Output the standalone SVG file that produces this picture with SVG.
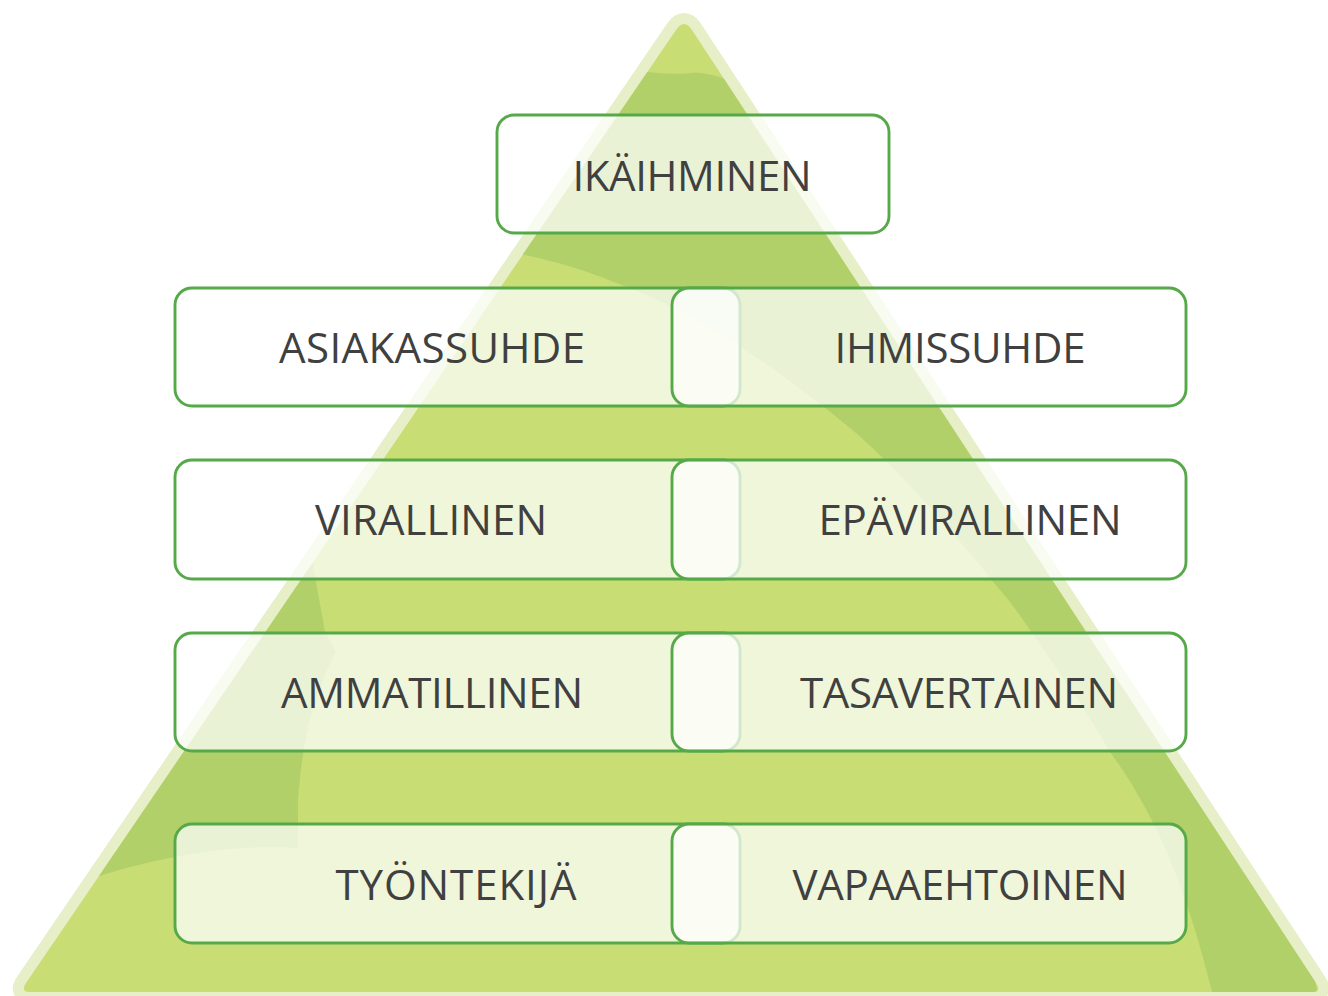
<svg xmlns="http://www.w3.org/2000/svg" width="1328" height="996" viewBox="0 0 1328 996">
  <style>
    .box { fill: #ffffff; fill-opacity: 0.73; stroke: #56a948; stroke-width: 2.9; }
    .lbl { font-family: "Open Sans", "Liberation Sans", sans-serif; font-size: 42px; fill: #404040; text-anchor: middle; }
    .dark { fill: #b1d06a; }
  </style>
  <defs>
    <clipPath id="tri">
      <path d="M676,30 Q684,18 692,30 L1316,983 Q1322,992 1312,992 L30,992 Q20,992 26,983 Z"/>
    </clipPath>
  </defs>
  <rect width="1328" height="996" fill="#ffffff"/>
  <g id="pyramid">
    <path d="M676,30 Q684,18 692,30 L1316,983 Q1322,992 1312,992 L30,992 Q20,992 26,983 Z" fill="#e6efc8" stroke="#e6efc8" stroke-width="22" stroke-linejoin="round"/>
    <path d="M676,30 Q684,18 692,30 L1316,983 Q1322,992 1312,992 L30,992 Q20,992 26,983 Z" fill="#c8dd74"/>
    <g clip-path="url(#tri)">
      <path class="dark" d="M600,68 C640,70 670,76 690,73 C705,71 725,78 760,92 L1340,900 L1340,940 L1305,952 C1312,965 1316,980 1318,1000 L1214,1000 C1190,900 1160,820 1110,752 C1080,700 1050,660 1030,630 C1015,608 1005,595 1000,590 C960,540 900,470 850,428 C780,370 700,315 627,287 C590,272 555,260 500,250 Z"/>
      <path class="dark" d="M300,545 L312,560 L325,632 L336,652 C315,690 302,740 298,800 L298,848 C250,845 180,850 93,878 L0,900 L0,545 Z"/>
    </g>
  </g>
  <g id="node-top">
    <rect class="box" x="497" y="115" width="392" height="118" rx="17"/>
    <text class="lbl" x="692" y="191" textLength="239">IKÄIHMINEN</text>
  </g>
  <g id="node-asiakassuhde">
    <rect class="box" x="175" y="288" width="565" height="118" rx="17"/>
    <text class="lbl" x="432" y="363" textLength="306">ASIAKASSUHDE</text>
  </g>
  <g id="node-ihmissuhde">
    <rect class="box" x="672" y="288" width="514" height="118" rx="17"/>
    <text class="lbl" x="960" y="363" textLength="251">IHMISSUHDE</text>
  </g>
  <g id="node-virallinen">
    <rect class="box" x="175" y="460" width="565" height="119" rx="17"/>
    <text class="lbl" x="431" y="535" textLength="232">VIRALLINEN</text>
  </g>
  <g id="node-epavirallinen">
    <rect class="box" x="672" y="460" width="514" height="119" rx="17"/>
    <text class="lbl" x="970" y="535" textLength="303">EPÄVIRALLINEN</text>
  </g>
  <g id="node-ammatillinen">
    <rect class="box" x="175" y="633" width="565" height="118" rx="17"/>
    <text class="lbl" x="432" y="708" textLength="302">AMMATILLINEN</text>
  </g>
  <g id="node-tasavertainen">
    <rect class="box" x="672" y="633" width="514" height="118" rx="17"/>
    <text class="lbl" x="959" y="708" textLength="318">TASAVERTAINEN</text>
  </g>
  <g id="node-tyontekija">
    <rect class="box" x="175" y="824" width="565" height="119" rx="17"/>
    <text class="lbl" x="456" y="900" textLength="241">TYÖNTEKIJÄ</text>
  </g>
  <g id="node-vapaaehtoinen">
    <rect class="box" x="672" y="824" width="514" height="119" rx="17"/>
    <text class="lbl" x="960" y="900" textLength="335">VAPAAEHTOINEN</text>
  </g>
  <g id="connectors"/>
</svg>
